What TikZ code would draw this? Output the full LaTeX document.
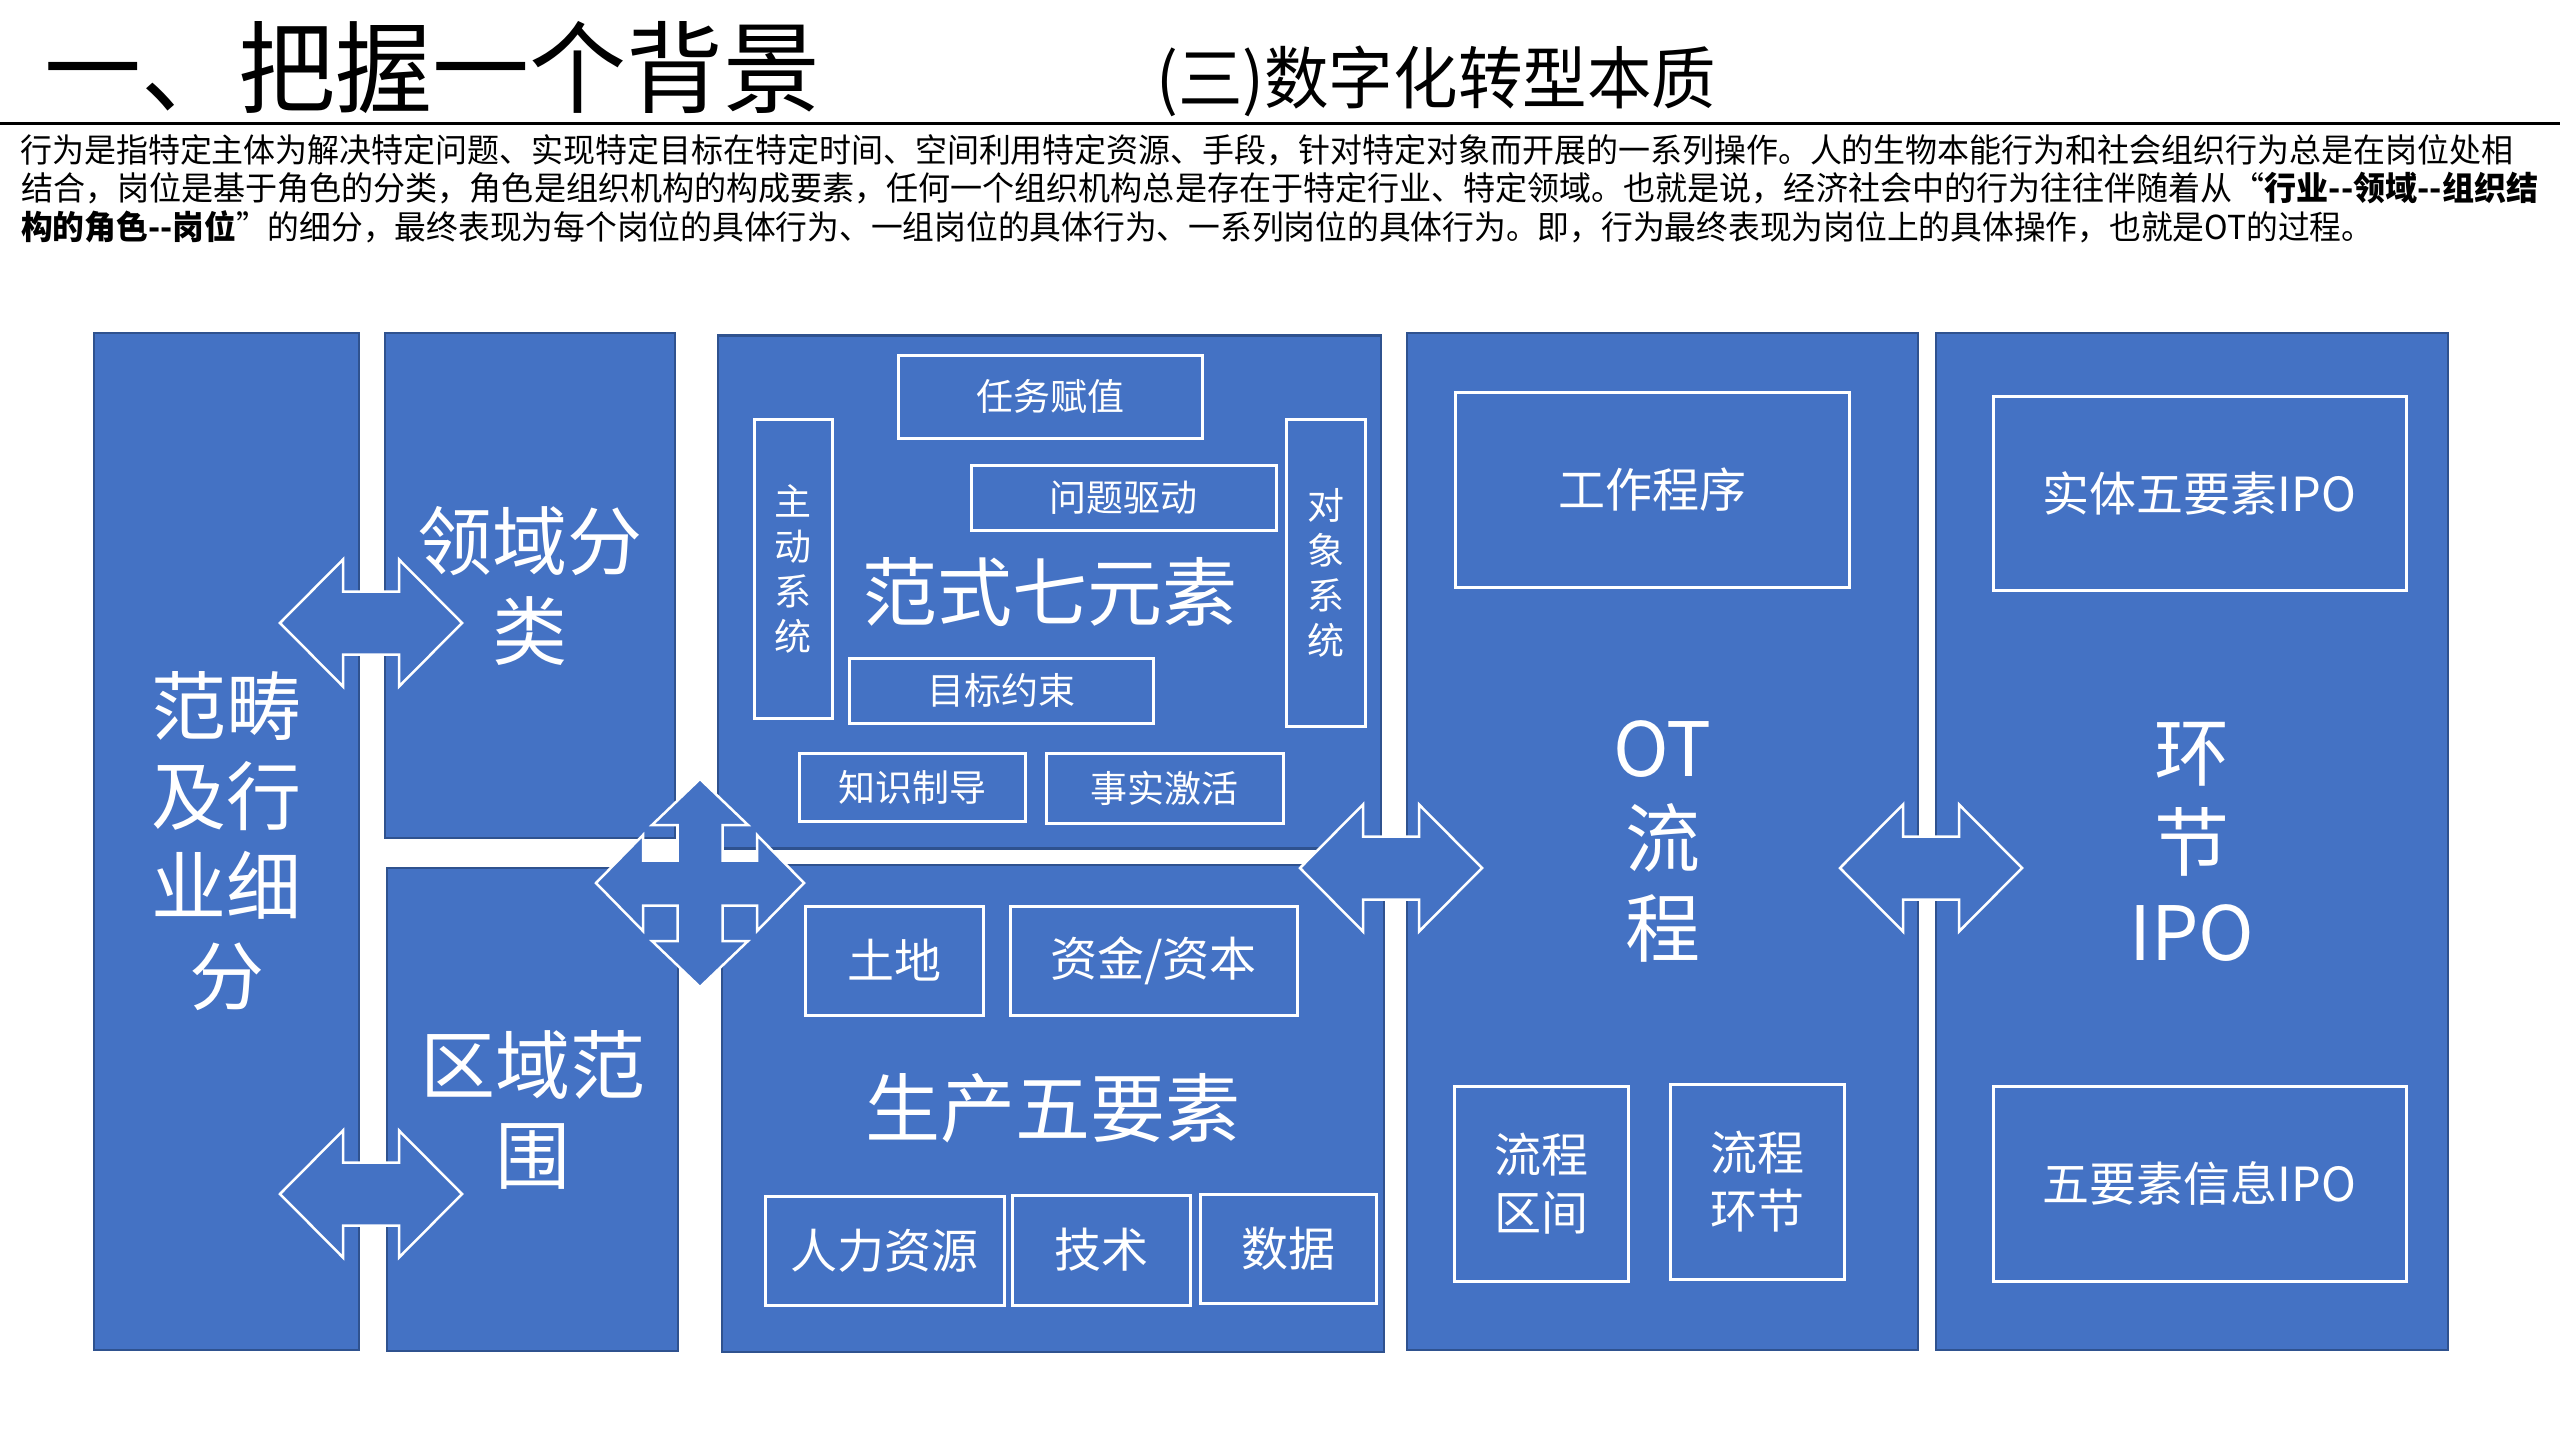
\documentclass[tikz,border=0pt]{standalone}
\usepackage{fontspec}
\setmainfont{Noto Sans CJK SC}
\usepackage{graphicx}
\definecolor{boxfill}{HTML}{4472C4}
\definecolor{boxline}{HTML}{2F528F}
\newcommand\fs[2]{\fontsize{#1}{#2}\selectfont}
\newcommand\myDArrow[2]{% center x, center y : horizontal double block arrow
  \draw[blockarrow] (#1-91,#2) -- (#1-28,#2-63.5) -- (#1-28,#2-31.5) -- (#1+28,#2-31.5) -- (#1+28,#2-63.5)
    -- (#1+91,#2) -- (#1+28,#2+63.5) -- (#1+28,#2+31.5) -- (#1-28,#2+31.5) -- (#1-28,#2+63.5) -- cycle;}
\tikzset{
  outerbox/.style={draw=boxline, line width=2.5pt, fill=boxfill, text=white, align=center, inner sep=0pt},
  innerbox/.style={draw=white, line width=3pt, text=white, align=center, inner sep=0pt},
  blockarrow/.style={draw=white, line width=2.5pt, fill=boxfill, line join=miter},
  big/.style={font=\fs{75}{90}},
  mid/.style={font=\fs{47}{58}},
  small/.style={font=\fs{37}{45}},
  para/.style={anchor=base west, inner sep=0pt}
}
\begin{document}
\begin{tikzpicture}[x=1pt,y=-1pt]
\fill[white] (0,0) rectangle (2560,1440);
\useasboundingbox (0,0) rectangle (2560,1440);

% titles
\node[para] (t1) at (44,105) {\fs{100}{110}\resizebox{776pt}{\height}{一、把握一个背景}};
\node[para] (t2) at (1156,103) {\fs{68}{80}\resizebox{560pt}{\height}{(三)数字化转型本质}};
\draw[line width=2.5pt] (0,123.5) -- (2560,123.5);

% paragraph
\node[para] (p1) at (20,162) {\fs{33}{40}\resizebox{2493pt}{\height}{行为是指特定主体为解决特定问题、实现特定目标在特定时间、空间利用特定资源、手段，针对特定对象而开展的一系列操作。人的生物本能行为和社会组织行为总是在岗位处相}};
\node[para] (p2) at (21,200) {\fs{33}{40}\resizebox{2517pt}{\height}{结合，岗位是基于角色的分类，角色是组织机构的构成要素，任何一个组织机构总是存在于特定行业、特定领域。也就是说，经济社会中的行为往往伴随着从“{\bfseries 行业-\kern0pt-领域-\kern0pt-组织结}}};
\node[para] (p3) at (21,239) {\fs{33}{40}\resizebox{2352pt}{\height}{{\bfseries 构的角色-\kern0pt-岗位}”的细分，最终表现为每个岗位的具体行为、一组岗位的具体行为、一系列岗位的具体行为。即，行为最终表现为岗位上的具体操作，也就是OT的过程。}};

% outer boxes
\node[outerbox, big, minimum width=265pt, minimum height=1017pt] (A) at (226.5,841.5) {范畴\\及行\\业细\\分};
\node[outerbox, big, minimum width=290pt, minimum height=505pt] (B) at (530,585.5) {领域分\\类};
\node[outerbox, big, minimum width=291pt, minimum height=483pt] (C) at (532.5,1109.5) {区域范\\围};
\node[outerbox, big, minimum width=663pt, minimum height=513pt] (D) at (1049.5,592) {范式七元素};
\node[outerbox, big, minimum width=662pt, minimum height=487pt] (E) at (1053,1108.5) {生产五要素};
\node[outerbox, big, minimum width=511pt, minimum height=1017pt] (F) at (1662.5,841.5) {OT\\流\\程};
\node[outerbox, big, minimum width=512pt, minimum height=1017pt] (G) at (2192,841.5) {环\\节\\IPO};

% inner boxes of D
\node[innerbox, small, minimum width=304pt, minimum height=83pt] (d1) at (1050,396.5) {任务赋值};
\node[innerbox, small, minimum width=78pt, minimum height=299pt] (d2) at (793,568.5) {主\\动\\系\\统};
\node[innerbox, small, minimum width=305pt, minimum height=65pt] (d3) at (1123.5,497.5) {问题驱动};
\node[innerbox, small, minimum width=79pt, minimum height=307pt] (d4) at (1325.5,572.5) {对\\象\\系\\统};
\node[innerbox, small, minimum width=304pt, minimum height=65pt] (d5) at (1001,690.5) {目标约束};
\node[innerbox, small, minimum width=226pt, minimum height=68pt] (d6) at (912,787) {知识制导};
\node[innerbox, small, minimum width=237pt, minimum height=70pt] (d7) at (1164.5,788) {事实激活};

% inner boxes of E
\node[innerbox, mid, minimum width=178pt, minimum height=109pt] (e1) at (894,960.5) {土地};
\node[innerbox, mid, minimum width=287pt, minimum height=109pt] (e2) at (1153.5,960.5) {资金/资本};
\node[innerbox, mid, minimum width=239pt, minimum height=109pt] (e3) at (884.5,1250.5) {人力资源};
\node[innerbox, mid, minimum width=178pt, minimum height=110pt] (e4) at (1101,1250) {技术};
\node[innerbox, mid, minimum width=176pt, minimum height=109pt] (e5) at (1288,1248.5) {数据};

% inner boxes of F
\node[innerbox, mid, minimum width=394pt, minimum height=195pt] (f1) at (1652,489.5) {工作程序};
\node[innerbox, mid, minimum width=174pt, minimum height=195pt] (f2) at (1541,1183.5) {流程\\区间};
\node[innerbox, mid, minimum width=174pt, minimum height=195pt] (f3) at (1757,1181.5) {流程\\环节};

% inner boxes of G
\node[innerbox, mid, minimum width=413pt, minimum height=194pt] (g1) at (2199.5,493) {实体五要素IPO};
\node[innerbox, mid, minimum width=413pt, minimum height=195pt] (g2) at (2199.5,1183.5) {五要素信息IPO};

% block arrows
\myDArrow{371}{623}
\myDArrow{371}{1194}
\myDArrow{1391}{868}
\myDArrow{1931}{868}
% four-way arrow
\draw[blockarrow] (700,779) -- (748,825) -- (722.5,825) -- (722.5,860.5) -- (757,860.5) -- (757,835)
  -- (804,883) -- (757,931) -- (757,905.5) -- (722.5,905.5) -- (722.5,941) -- (748,941)
  -- (700,987) -- (652,941) -- (677.5,941) -- (677.5,905.5) -- (643,905.5) -- (643,931)
  -- (596,883) -- (643,835) -- (643,860.5) -- (677.5,860.5) -- (677.5,825) -- (652,825) -- cycle;
\end{tikzpicture}
\end{document}
